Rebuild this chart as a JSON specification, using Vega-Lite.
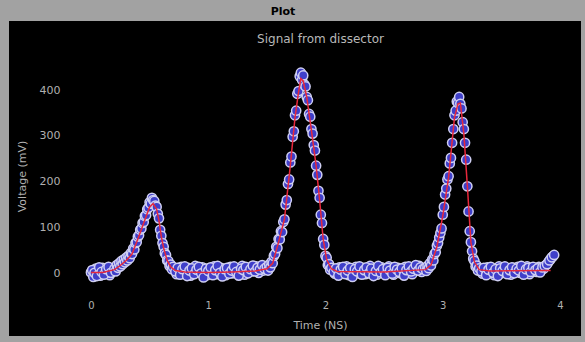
{
  "$schema": "https://vega.github.io/schema/vega-lite/v6.json",
  "width": 572,
  "height": 315,
  "autosize": {"type": "none"},
  "padding": {"left": 9, "top": 21, "right": 4, "bottom": 6},
  "background": "#a2a2a2",
  "config": {"font": "DejaVu Sans", "view": {"fill": "#000000", "stroke": null}},
  "title": {"text": "Plot", "fontSize": 11, "fontWeight": "bold", "color": "#000000", "anchor": "middle", "dx": -12, "offset": 4},
  "datasets": {
    "pts": [
      {"t":0.00,"v":2},{"t":0.02,"v":-8},{"t":0.04,"v":10},{"t":0.06,"v":4},{"t":0.08,"v":-5},{"t":0.10,"v":12},{"t":0.12,"v":0},{"t":0.14,"v":8},{"t":0.16,"v":-4},{"t":0.18,"v":11},{"t":0.19,"v":6},
      {"t":0.01,"v":7},{"t":0.03,"v":1},{"t":0.05,"v":-6},{"t":0.07,"v":13},{"t":0.09,"v":3},{"t":0.11,"v":-3},{"t":0.13,"v":9},{"t":0.15,"v":14},{"t":0.17,"v":1},
      {"t":0.71,"v":10},{"t":0.73,"v":-2},{"t":0.75,"v":8},{"t":0.77,"v":14},{"t":0.79,"v":0},{"t":0.81,"v":6},{"t":0.83,"v":12},{"t":0.85,"v":-5},{"t":0.87,"v":4},{"t":0.89,"v":16},
      {"t":0.91,"v":2},{"t":0.93,"v":7},{"t":0.95,"v":13},{"t":0.97,"v":3},{"t":0.99,"v":-4},{"t":1.01,"v":11},{"t":1.03,"v":6},{"t":1.05,"v":15},{"t":1.07,"v":-2},{"t":1.09,"v":8},
      {"t":1.11,"v":12},{"t":1.13,"v":3},{"t":1.15,"v":-4},{"t":1.17,"v":6},{"t":1.19,"v":14},{"t":1.21,"v":0},{"t":1.23,"v":9},{"t":1.25,"v":11},{"t":1.27,"v":2},{"t":1.29,"v":16},
      {"t":1.31,"v":-3},{"t":1.33,"v":7},{"t":1.35,"v":12},{"t":1.37,"v":4},{"t":1.39,"v":9},{"t":1.41,"v":15},{"t":1.43,"v":1},{"t":1.45,"v":11},{"t":1.47,"v":6},{"t":1.49,"v":13},
      {"t":2.06,"v":10},{"t":2.08,"v":-1},{"t":2.10,"v":7},{"t":2.12,"v":13},{"t":2.14,"v":2},{"t":2.16,"v":9},{"t":2.18,"v":15},{"t":2.20,"v":-4},{"t":2.22,"v":5},{"t":2.24,"v":11},
      {"t":2.26,"v":14},{"t":2.28,"v":0},{"t":2.30,"v":8},{"t":2.32,"v":12},{"t":2.34,"v":-2},{"t":2.36,"v":6},{"t":2.38,"v":16},{"t":2.40,"v":3},{"t":2.42,"v":10},{"t":2.44,"v":-3},
      {"t":2.46,"v":8},{"t":2.48,"v":13},{"t":2.50,"v":1},{"t":2.52,"v":6},{"t":2.54,"v":15},{"t":2.56,"v":9},{"t":2.58,"v":-3},{"t":2.60,"v":5},{"t":2.62,"v":12},{"t":2.64,"v":0},
      {"t":2.66,"v":8},{"t":2.68,"v":14},{"t":2.70,"v":2},{"t":2.72,"v":10},{"t":2.74,"v":-2},{"t":2.76,"v":7},{"t":2.78,"v":12},{"t":2.80,"v":16},{"t":2.82,"v":3},{"t":2.84,"v":11},
      {"t":3.32,"v":9},{"t":3.34,"v":-1},{"t":3.36,"v":7},{"t":3.38,"v":13},{"t":3.40,"v":2},{"t":3.42,"v":10},{"t":3.44,"v":-4},{"t":3.46,"v":6},{"t":3.48,"v":15},{"t":3.50,"v":0},
      {"t":3.52,"v":8},{"t":3.54,"v":11},{"t":3.56,"v":4},{"t":3.58,"v":-3},{"t":3.60,"v":12},{"t":3.62,"v":6},{"t":3.64,"v":14},{"t":3.66,"v":1},{"t":3.68,"v":9},{"t":3.70,"v":5},
      {"t":3.72,"v":15},{"t":3.74,"v":-2},{"t":3.76,"v":8},{"t":3.78,"v":11},{"t":3.80,"v":3},{"t":3.82,"v":14},{"t":3.84,"v":7},{"t":3.86,"v":10},{"t":3.88,"v":18},{"t":3.90,"v":24},{"t":3.92,"v":31},{"t":3.94,"v":37},
      {"t":0.20,"v":10},{"t":0.21,"v":4},{"t":0.22,"v":18},{"t":0.23,"v":12},{"t":0.24,"v":22},{"t":0.25,"v":15},{"t":0.26,"v":27},{"t":0.27,"v":20},{"t":0.28,"v":30},{"t":0.29,"v":24},
      {"t":0.30,"v":34},{"t":0.31,"v":28},{"t":0.32,"v":38},{"t":0.33,"v":33},{"t":0.34,"v":44},{"t":0.35,"v":42},{"t":0.36,"v":54},{"t":0.37,"v":52},{"t":0.38,"v":66},{"t":0.39,"v":68},
      {"t":0.40,"v":80},{"t":0.41,"v":83},{"t":0.42,"v":95},{"t":0.43,"v":98},{"t":0.44,"v":110},{"t":0.45,"v":112},{"t":0.46,"v":125},{"t":0.47,"v":127},{"t":0.48,"v":140},{"t":0.49,"v":143},
      {"t":0.50,"v":155},{"t":0.51,"v":152},{"t":0.52,"v":165},{"t":0.53,"v":160},{"t":0.54,"v":158},{"t":0.55,"v":148},{"t":0.56,"v":145},{"t":0.57,"v":130},{"t":0.58,"v":120},{"t":0.59,"v":95},
      {"t":0.60,"v":82},{"t":0.61,"v":66},{"t":0.62,"v":58},{"t":0.63,"v":44},{"t":0.64,"v":40},{"t":0.65,"v":28},{"t":0.66,"v":27},{"t":0.67,"v":16},{"t":0.68,"v":19},{"t":0.69,"v":9},{"t":0.70,"v":14},
      {"t":0.72,"v":4},{"t":0.74,"v":12},{"t":0.76,"v":-3},{"t":0.78,"v":9},{"t":0.80,"v":15},{"t":0.82,"v":-6},{"t":0.84,"v":6},{"t":0.86,"v":11},{"t":0.88,"v":-2},{"t":0.90,"v":8},
      {"t":0.92,"v":14},{"t":0.94,"v":0},{"t":0.96,"v":-9},{"t":0.98,"v":10},{"t":1.00,"v":5},{"t":1.02,"v":13},{"t":1.04,"v":-4},{"t":1.06,"v":7},{"t":1.08,"v":16},{"t":1.10,"v":1},
      {"t":1.12,"v":-7},{"t":1.14,"v":9},{"t":1.16,"v":12},{"t":1.18,"v":-1},{"t":1.20,"v":6},{"t":1.22,"v":15},{"t":1.24,"v":3},{"t":1.26,"v":-5},{"t":1.28,"v":10},{"t":1.30,"v":7},
      {"t":1.32,"v":14},{"t":1.34,"v":0},{"t":1.36,"v":9},{"t":1.38,"v":17},{"t":1.40,"v":4},{"t":1.42,"v":12},{"t":1.44,"v":8},{"t":1.46,"v":18},{"t":1.48,"v":10},
      {"t":1.50,"v":14},{"t":1.51,"v":6},{"t":1.52,"v":19},{"t":1.53,"v":13},{"t":1.54,"v":25},{"t":1.55,"v":22},{"t":1.56,"v":38},{"t":1.57,"v":42},{"t":1.58,"v":58},{"t":1.59,"v":55},
      {"t":1.60,"v":75},{"t":1.61,"v":74},{"t":1.62,"v":92},{"t":1.63,"v":90},{"t":1.64,"v":112},{"t":1.65,"v":118},{"t":1.66,"v":150},{"t":1.67,"v":160},{"t":1.68,"v":195},{"t":1.69,"v":205},
      {"t":1.70,"v":242},{"t":1.71,"v":255},{"t":1.72,"v":298},{"t":1.73,"v":310},{"t":1.74,"v":345},{"t":1.75,"v":355},{"t":1.76,"v":392},{"t":1.77,"v":398},{"t":1.78,"v":430},{"t":1.79,"v":438},
      {"t":1.80,"v":422},{"t":1.81,"v":432},{"t":1.82,"v":412},{"t":1.83,"v":408},{"t":1.84,"v":385},{"t":1.85,"v":378},{"t":1.86,"v":348},{"t":1.87,"v":342},{"t":1.88,"v":315},{"t":1.89,"v":305},
      {"t":1.90,"v":280},{"t":1.91,"v":268},{"t":1.92,"v":235},{"t":1.93,"v":215},{"t":1.94,"v":180},{"t":1.95,"v":165},{"t":1.96,"v":128},{"t":1.97,"v":110},{"t":1.98,"v":75},{"t":1.99,"v":62},
      {"t":2.00,"v":38},{"t":2.01,"v":34},{"t":2.02,"v":18},{"t":2.03,"v":20},{"t":2.04,"v":8},{"t":2.05,"v":12},
      {"t":2.07,"v":3},{"t":2.09,"v":11},{"t":2.11,"v":-5},{"t":2.13,"v":8},{"t":2.15,"v":14},{"t":2.17,"v":-2},{"t":2.19,"v":6},{"t":2.21,"v":12},{"t":2.23,"v":-8},{"t":2.25,"v":9},
      {"t":2.27,"v":4},{"t":2.29,"v":15},{"t":2.31,"v":-3},{"t":2.33,"v":7},{"t":2.35,"v":13},{"t":2.37,"v":0},{"t":2.39,"v":10},{"t":2.41,"v":-6},{"t":2.43,"v":5},{"t":2.45,"v":16},
      {"t":2.47,"v":2},{"t":2.49,"v":9},{"t":2.51,"v":-4},{"t":2.53,"v":12},{"t":2.55,"v":6},{"t":2.57,"v":-1},{"t":2.59,"v":14},{"t":2.61,"v":8},{"t":2.63,"v":3},{"t":2.65,"v":11},
      {"t":2.67,"v":-5},{"t":2.69,"v":7},{"t":2.71,"v":15},{"t":2.73,"v":4},{"t":2.75,"v":10},{"t":2.77,"v":18},{"t":2.79,"v":6},{"t":2.81,"v":13},{"t":2.83,"v":9},
      {"t":2.85,"v":12},{"t":2.86,"v":5},{"t":2.87,"v":16},{"t":2.88,"v":11},{"t":2.89,"v":22},{"t":2.90,"v":17},{"t":2.91,"v":30},{"t":2.92,"v":28},{"t":2.93,"v":42},{"t":2.94,"v":46},
      {"t":2.95,"v":60},{"t":2.96,"v":66},{"t":2.97,"v":78},{"t":2.98,"v":88},{"t":2.99,"v":98},{"t":3.00,"v":128},{"t":3.01,"v":145},{"t":3.02,"v":172},{"t":3.03,"v":185},{"t":3.04,"v":205},
      {"t":3.05,"v":212},{"t":3.06,"v":240},{"t":3.07,"v":252},{"t":3.08,"v":285},{"t":3.09,"v":315},{"t":3.10,"v":345},{"t":3.11,"v":355},{"t":3.12,"v":375},{"t":3.13,"v":372},{"t":3.14,"v":385},
      {"t":3.15,"v":370},{"t":3.16,"v":360},{"t":3.17,"v":330},{"t":3.18,"v":315},{"t":3.19,"v":285},{"t":3.20,"v":248},{"t":3.21,"v":190},{"t":3.22,"v":135},{"t":3.23,"v":92},{"t":3.24,"v":68},
      {"t":3.25,"v":48},{"t":3.26,"v":32},{"t":3.27,"v":27},{"t":3.28,"v":15},{"t":3.29,"v":17},{"t":3.30,"v":6},{"t":3.31,"v":11},
      {"t":3.33,"v":4},{"t":3.35,"v":12},{"t":3.37,"v":-4},{"t":3.39,"v":8},{"t":3.41,"v":14},{"t":3.43,"v":1},{"t":3.45,"v":9},{"t":3.47,"v":-6},{"t":3.49,"v":11},{"t":3.51,"v":5},
      {"t":3.53,"v":15},{"t":3.55,"v":-2},{"t":3.57,"v":7},{"t":3.59,"v":13},{"t":3.61,"v":0},{"t":3.63,"v":10},{"t":3.65,"v":6},{"t":3.67,"v":16},{"t":3.69,"v":-3},{"t":3.71,"v":9},
      {"t":3.73,"v":12},{"t":3.75,"v":3},{"t":3.77,"v":14},{"t":3.79,"v":7},{"t":3.81,"v":11},{"t":3.83,"v":2},{"t":3.85,"v":13},{"t":3.87,"v":16},{"t":3.89,"v":20},{"t":3.91,"v":28},{"t":3.93,"v":35},{"t":3.95,"v":40}
    ],
    "fit": [
      {"t":0.00,"v":2},{"t":0.10,"v":2},{"t":0.20,"v":8},{"t":0.25,"v":17},{"t":0.30,"v":28},{"t":0.35,"v":42},{"t":0.40,"v":75},{"t":0.45,"v":110},{"t":0.50,"v":145},{"t":0.53,"v":152},
      {"t":0.56,"v":140},{"t":0.58,"v":115},{"t":0.60,"v":80},{"t":0.62,"v":55},{"t":0.65,"v":28},{"t":0.68,"v":14},{"t":0.72,"v":6},{"t":0.80,"v":3},{"t":1.00,"v":2},{"t":1.20,"v":3},
      {"t":1.40,"v":5},{"t":1.50,"v":10},{"t":1.55,"v":22},{"t":1.60,"v":68},{"t":1.65,"v":118},{"t":1.70,"v":235},{"t":1.74,"v":340},{"t":1.77,"v":395},{"t":1.79,"v":425},{"t":1.81,"v":420},
      {"t":1.84,"v":385},{"t":1.88,"v":312},{"t":1.92,"v":235},{"t":1.95,"v":160},{"t":1.98,"v":75},{"t":2.01,"v":30},{"t":2.05,"v":10},{"t":2.10,"v":4},{"t":2.50,"v":3},{"t":2.85,"v":8},
      {"t":2.90,"v":18},{"t":2.95,"v":58},{"t":3.00,"v":125},{"t":3.05,"v":210},{"t":3.10,"v":340},{"t":3.13,"v":370},{"t":3.15,"v":372},{"t":3.18,"v":305},{"t":3.21,"v":190},{"t":3.24,"v":68},
      {"t":3.27,"v":25},{"t":3.31,"v":8},{"t":3.40,"v":5},{"t":3.92,"v":6}
    ]
  },
  "resolve": {"axis": {"x": "independent", "y": "independent"}},
  "layer": [
    {
      "mark": {"type": "rule", "color": "#4a4a4a", "strokeWidth": 1},
      "encoding": {
        "x": {"datum": 0, "type": "quantitative", "scale": {"domain": [-0.699, 4.179], "nice": false, "zero": false}, "axis": null},
        "y": {"datum": -51.5, "type": "quantitative", "scale": {"domain": [-136.9, 550.9], "nice": false, "zero": false}, "axis": null},
        "y2": {"datum": 477}
      }
    },
    {
      "mark": {"type": "rule", "color": "#4a4a4a", "strokeWidth": 1},
      "encoding": {
        "x": {"datum": 2, "type": "quantitative", "axis": null},
        "y": {"datum": -51.5, "type": "quantitative", "axis": null},
        "y2": {"datum": 410}
      }
    },
    {
      "mark": {"type": "rule", "color": "#4a4a4a", "strokeWidth": 1},
      "encoding": {
        "x": {"datum": -0.23, "type": "quantitative", "axis": null},
        "x2": {"datum": 4.13},
        "y": {"datum": 200, "type": "quantitative", "axis": null}
      }
    },
    {
      "data": {"name": "pts"},
      "mark": {"type": "circle", "fill": "#3f3fca", "stroke": "#cfcff2", "strokeWidth": 1.5, "size": 85, "opacity": 1},
      "encoding": {
        "x": {"field": "t", "type": "quantitative",
          "axis": {"orient": "bottom", "offset": -39, "values": [0, 1, 2, 3, 4], "domain": false, "ticks": false, "grid": false,
            "labelColor": "#b0b0b0", "labelFontSize": 10, "labelPadding": 3,
            "title": "Time (NS)", "titleX": 311, "titleColor": "#b0b0b0", "titleFontWeight": "normal", "titleFontSize": 11, "titlePadding": 9}},
        "y": {"field": "v", "type": "quantitative",
          "axis": {"orient": "left", "offset": -55, "values": [0, 100, 200, 300, 400], "domain": false, "ticks": false, "grid": false,
            "labelColor": "#b0b0b0", "labelFontSize": 11, "labelPadding": 4,
            "title": "Voltage (mV)", "titleColor": "#b0b0b0", "titleFontWeight": "normal", "titleFontSize": 11,
            "titleX": -42, "titleY": 155, "titleAngle": 270, "titleAlign": "center", "titleBaseline": "middle"}}
      }
    },
    {
      "data": {"name": "fit"},
      "mark": {"type": "line", "color": "#e8283c", "strokeWidth": 1.5},
      "encoding": {
        "x": {"field": "t", "type": "quantitative",
          "axis": {"orient": "top", "labels": false, "ticks": false, "domain": false, "grid": false,
            "title": "Signal from dissector", "titleX": 311, "titleY": 21, "titleBaseline": "alphabetic", "titleAlign": "center",
            "titleColor": "#b8b8b8", "titleFontWeight": "normal", "titleFontSize": 12}},
        "y": {"field": "v", "type": "quantitative", "axis": null}
      }
    },
    {
      "mark": {"type": "rule", "color": "#8a8a8a", "strokeWidth": 1},
      "encoding": {
        "x": {"datum": -0.23, "type": "quantitative", "axis": null},
        "y": {"datum": -51.5, "type": "quantitative", "axis": null},
        "y2": {"datum": 477}
      }
    },
    {
      "mark": {"type": "rule", "color": "#8a8a8a", "strokeWidth": 1},
      "encoding": {
        "x": {"datum": -0.23, "type": "quantitative", "axis": null},
        "x2": {"datum": 4.13},
        "y": {"datum": -51.5, "type": "quantitative", "axis": null}
      }
    }
  ]
}
